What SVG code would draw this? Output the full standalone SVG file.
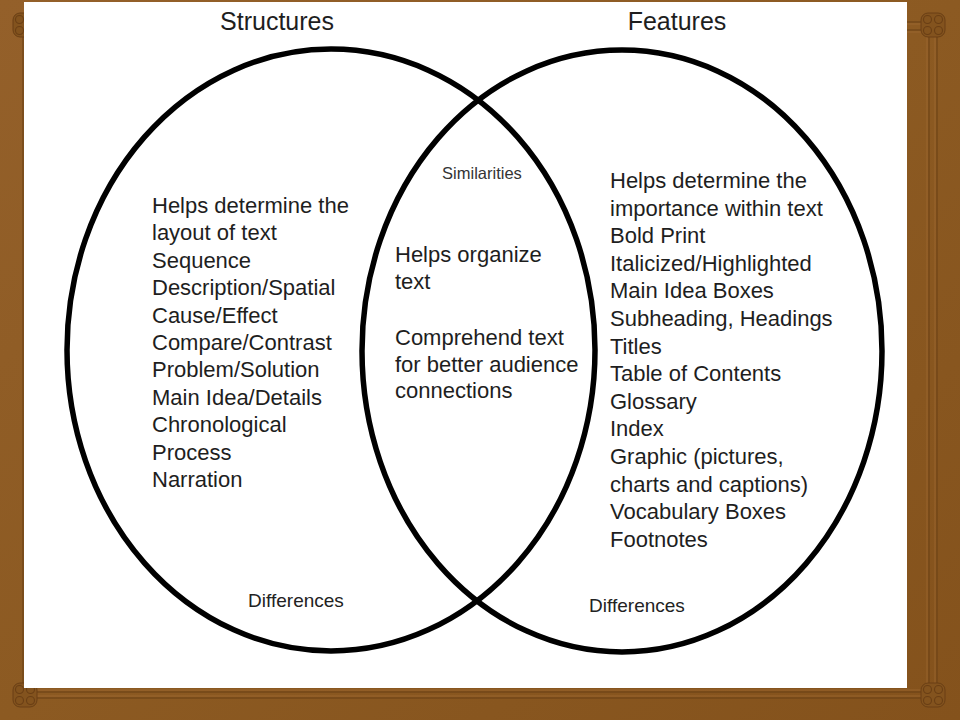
<svg xmlns="http://www.w3.org/2000/svg" width="960" height="720" viewBox="0 0 960 720">
  <defs>
    <linearGradient id="wood" x1="0" y1="0" x2="1" y2="1">
      <stop offset="0" stop-color="#94602a"/>
      <stop offset="0.5" stop-color="#8c5a22"/>
      <stop offset="1" stop-color="#84521c"/>
    </linearGradient>
    <g id="knot">
      <rect x="-12" y="-12" width="24" height="24" rx="7" fill="#83531e" stroke="#6a3f15" stroke-width="1"/>
      <circle cx="-5.5" cy="-5.5" r="4" fill="none" stroke="#6a3f15" stroke-width="1.1"/>
      <circle cx="5.5" cy="-5.5" r="4" fill="none" stroke="#6a3f15" stroke-width="1.1"/>
      <circle cx="-5.5" cy="5.5" r="4" fill="none" stroke="#6a3f15" stroke-width="1.1"/>
      <circle cx="5.5" cy="5.5" r="4" fill="none" stroke="#6a3f15" stroke-width="1.1"/>
    </g>
  </defs>
  <style>
    .frame { fill: none; stroke: #6c4216; stroke-width: 1.1; }
    .frameHi { fill: none; stroke: #a06c34; stroke-width: 0.7; }
    .ring { fill: none; stroke: #000; stroke-width: 5.5; }
    .title { font-family: "Liberation Sans", Arial, sans-serif; font-size: 25px; fill: #1e1e1e; text-anchor: middle; }
    .body { font-family: "Liberation Sans", Arial, sans-serif; font-size: 22px; fill: #1e1e1e; }
    .small { font-family: "Liberation Sans", Arial, sans-serif; font-size: 16.5px; fill: #333; text-anchor: middle; }
    .diff { font-family: "Liberation Sans", Arial, sans-serif; font-size: 19px; fill: #222; text-anchor: middle; }
  </style>

  <!-- wooden frame background -->
  <g id="background">
    <rect x="0" y="0" width="960" height="720" fill="url(#wood)"/>
    <rect class="frame" x="23" y="22" width="914" height="676"/>
    <rect class="frameHi" x="25" y="24" width="910" height="672"/>
    <rect class="frame" x="31" y="30" width="898" height="662"/>
    <rect class="frameHi" x="33" y="32" width="894" height="658"/>
    <use href="#knot" x="25" y="25"/>
    <use href="#knot" x="933" y="25"/>
    <use href="#knot" x="25" y="695"/>
    <use href="#knot" x="933" y="695"/>
    <rect x="24" y="2" width="883" height="686" fill="#ffffff"/>
  </g>

  <g id="structures">
    <ellipse class="ring" cx="331" cy="350" rx="264" ry="301"/>
    <text class="title" x="277" y="30">Structures</text>
    <text class="body">
      <tspan x="152" y="213">Helps determine the</tspan>
      <tspan x="152" y="240.4">layout of text</tspan>
      <tspan x="152" y="267.8">Sequence</tspan>
      <tspan x="152" y="295.2">Description/Spatial</tspan>
      <tspan x="152" y="322.6">Cause/Effect</tspan>
      <tspan x="152" y="350">Compare/Contrast</tspan>
      <tspan x="152" y="377.4">Problem/Solution</tspan>
      <tspan x="152" y="404.8">Main Idea/Details</tspan>
      <tspan x="152" y="432.2">Chronological</tspan>
      <tspan x="152" y="459.6">Process</tspan>
      <tspan x="152" y="487">Narration</tspan>
    </text>
    <text class="diff" x="296" y="607">Differences</text>
  </g>

  <g id="features">
    <ellipse class="ring" cx="622" cy="351" rx="260" ry="301"/>
    <text class="title" x="677" y="30">Features</text>
    <text class="body">
      <tspan x="610" y="188">Helps determine the</tspan>
      <tspan x="610" y="215.6">importance within text</tspan>
      <tspan x="610" y="243.2">Bold Print</tspan>
      <tspan x="610" y="270.8">Italicized/Highlighted</tspan>
      <tspan x="610" y="298.4">Main Idea Boxes</tspan>
      <tspan x="610" y="326">Subheading, Headings</tspan>
      <tspan x="610" y="353.6">Titles</tspan>
      <tspan x="610" y="381.2">Table of Contents</tspan>
      <tspan x="610" y="408.8">Glossary</tspan>
      <tspan x="610" y="436.4">Index</tspan>
      <tspan x="610" y="464">Graphic (pictures,</tspan>
      <tspan x="610" y="491.6">charts and captions)</tspan>
      <tspan x="610" y="519.2">Vocabulary Boxes</tspan>
      <tspan x="610" y="546.8">Footnotes</tspan>
    </text>
    <text class="diff" x="637" y="612">Differences</text>
  </g>

  <g id="similarities">
    <text class="small" x="482" y="179">Similarities</text>
    <text class="body">
      <tspan x="395" y="262">Helps organize</tspan>
      <tspan x="395" y="289">text</tspan>
      <tspan x="395" y="345">Comprehend text</tspan>
      <tspan x="395" y="372">for better audience</tspan>
      <tspan x="395" y="398">connections</tspan>
    </text>
  </g>

  <g id="connectors"/>
</svg>
